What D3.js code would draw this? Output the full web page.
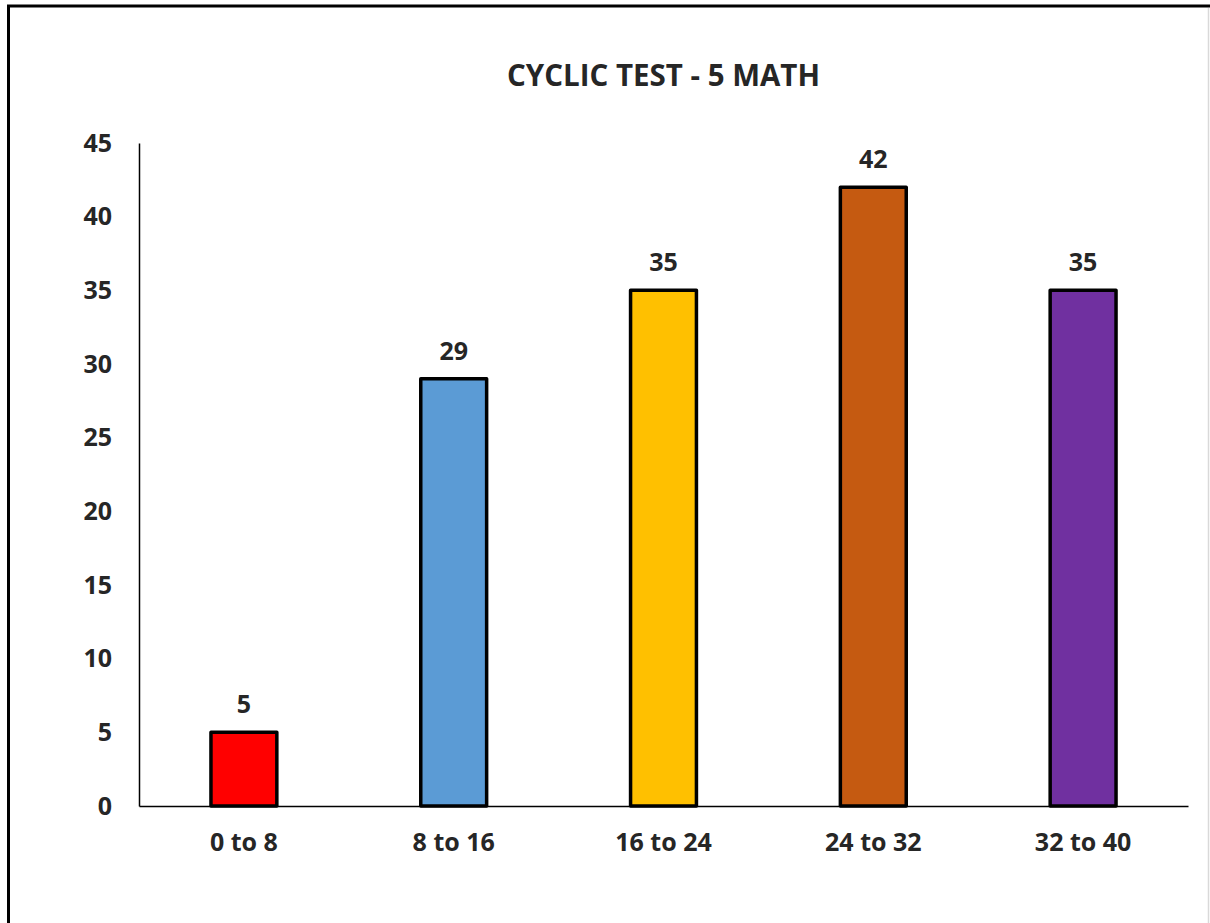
<!DOCTYPE html>
<html>
<head>
<meta charset="utf-8">
<script src="https://cdn.jsdelivr.net/npm/d3@7"></script>
<style>
  body { margin: 0; background: #fff; }
  text { font-family: "Open Sans", sans-serif; font-weight: bold; fill: #262626; }
</style>
</head>
<body>
<svg width="1210" height="923"></svg>
<script>
// Chart data
const categories = ["0 to 8", "8 to 16", "16 to 24", "24 to 32", "32 to 40"];
const counts = [5, 29, 35, 42, 35];
const barColors = ["#FF0000", "#5B9BD5", "#FFC000", "#C55A11", "#7030A0"];
const yTicks = [0, 5, 10, 15, 20, 25, 30, 35, 40, 45];
const title = "CYCLIC TEST - 5 MATH";

const svg = d3.select("svg");

// Frame around the chart
svg.append("line").attr("x1", 7).attr("x2", 1210).attr("y1", 6).attr("y2", 6)
  .style("stroke", "#000").style("stroke-width", 3);
svg.append("line").attr("x1", 8.5).attr("x2", 8.5).attr("y1", 5).attr("y2", 923)
  .style("stroke", "#000").style("stroke-width", 3);
svg.append("line").attr("x1", 1208.5).attr("x2", 1208.5).attr("y1", 8).attr("y2", 923)
  .style("stroke", "#d9d9d9").style("stroke-width", 1.5);

// Plot area
const plotLeft = 139, plotRight = 1188, plotTop = 143, plotBottom = 806;

const x = d3.scaleBand().domain(categories).range([plotLeft, plotRight]).paddingInner(0.686).paddingOuter(0.343);
const y = d3.scaleLinear().domain([0, 45]).range([plotBottom, plotTop]);

// Title
svg.append("text")
  .attr("x", (plotLeft + plotRight) / 2)
  .attr("y", 86)
  .attr("text-anchor", "middle")
  .style("font-size", "29.5px")
  .text(title);

// Y axis
const yAxis = svg.append("g")
  .attr("transform", `translate(${plotLeft},0)`)
  .call(d3.axisLeft(y).tickValues(yTicks).tickSize(0).tickPadding(27));
yAxis.select(".domain").style("stroke", "#000").style("stroke-width", 1.5);
yAxis.selectAll("text").style("font-size", "25px").style("fill", "#262626");

// Bars
svg.selectAll("rect.bar")
  .data(counts)
  .enter().append("rect")
  .attr("class", "bar")
  .attr("x", (d, i) => x(categories[i]))
  .attr("y", d => y(d))
  .attr("width", x.bandwidth())
  .attr("height", d => plotBottom - y(d))
  .style("fill", (d, i) => barColors[i])
  .style("stroke", "#000")
  .style("stroke-width", 3.5)
  .style("stroke-linejoin", "round");

// X axis drawn over the bar bottoms
const xAxis = svg.append("g")
  .attr("transform", `translate(0,${plotBottom})`)
  .call(d3.axisBottom(x).tickSize(0).tickPadding(27));
xAxis.select(".domain").style("stroke", "#000").style("stroke-width", 1.5);
xAxis.selectAll("text").style("font-size", "25px").style("fill", "#262626");

// Value labels
svg.selectAll("text.value")
  .data(counts)
  .enter().append("text")
  .attr("class", "value")
  .attr("x", (d, i) => x(categories[i]) + x.bandwidth() / 2)
  .attr("y", d => y(d) - 19)
  .attr("text-anchor", "middle")
  .style("font-size", "25px")
  .text(d => d);
</script>
</body>
</html>
